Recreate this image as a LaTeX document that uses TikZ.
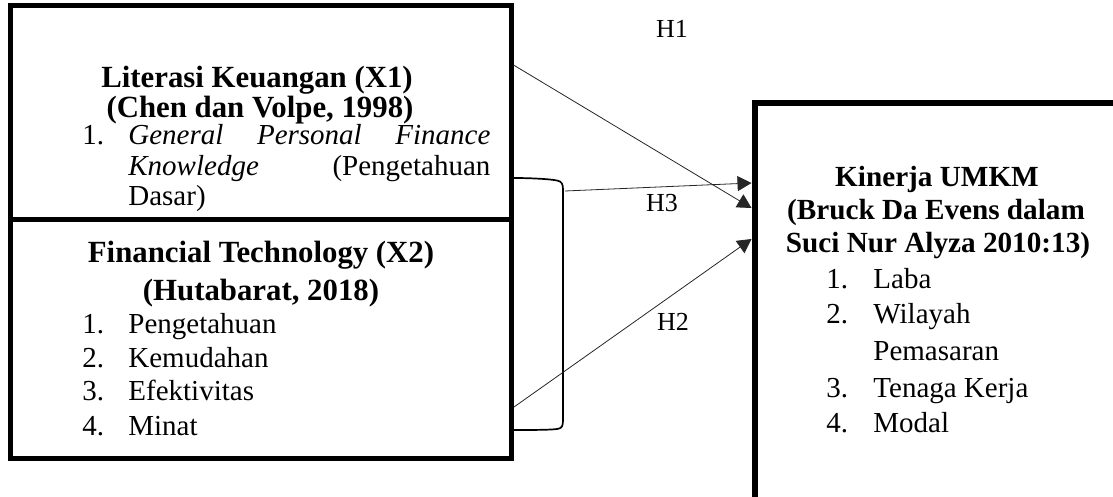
\documentclass[tikz,border=0pt]{standalone}
\usepackage{fontspec}
\setmainfont{Liberation Serif}
\usetikzlibrary{arrows.meta}
\tikzset{
  hyp/.style={>={Triangle[length=7pt,width=7.5pt]}, every edge/.style={draw=black!85, line width=0.4pt, ->}},
  varbox/.style={draw=black, line width=2.5pt, inner sep=0pt},
  brk/.style={draw=black, line width=0.85pt},
  ttl/.style={anchor=base, inner sep=0pt, text height=0.66em, text depth=0.15em,
    font=\bfseries\fontsize{15.4}{18}\selectfont},
  ttlsm/.style={ttl, font=\bfseries\fontsize{14.6}{17}\selectfont},
  num/.style={anchor=base west, inner sep=0pt, text height=0.66em, text depth=0.18em,
    font=\fontsize{14.5}{17}\selectfont},
  hlbl/.style={anchor=base, inner sep=0pt, font=\fontsize{13}{15}\selectfont},
}
\begin{document}
\begin{tikzpicture}[x=0.5pt, y=-0.5pt, hyp]
  \useasboundingbox (0,0) rectangle (1113,497);
  % boxes
  \node[varbox, minimum width=250.25pt, minimum height=106.75pt] (x1) at (260.75,112.75) {};
  \node[varbox, minimum width=250.75pt, minimum height=119.25pt] (x2) at (260.75,338.75) {};
  \node[varbox, line width=3pt, minimum width=187.75pt, minimum height=205.75pt] (y) at (942.25,309.25) {};

  % X1
  \node[ttl] (x1t) at (257,88) {Literasi Keuangan (X1)};
  \node[ttl] (x1r) at (260,118) {(Chen dan Volpe, 1998)};
  \node[num] (x1n) at (82,145) {1.};
  \node[num] (x1a) at (128,145) {\makebox[181pt][s]{\itshape General Personal Finance}};
  \node[num] (x1b) at (128,176) {\makebox[181pt][l]{\itshape Knowledge\upshape\hfill(Pengetahuan}};
  \node[num] (x1c) at (128,206) {Dasar)};

  % X2
  \node[ttl] (x2t) at (261,263) {Financial Technology (X2)};
  \node[ttl] (x2r) at (261,300) {(Hutabarat, 2018)};
  \foreach \i/\t/\yy in {1/Pengetahuan/333, 2/Kemudahan/367, 3/Efektivitas/400, 4/Minat/435} {
    \node[num] (x2n\i) at (82,\yy) {\i.};
    \node[num] (x2i\i) at (128,\yy) {\t};
  }

  % Y
  \node[ttlsm] (yt) at (937,187) {Kinerja UMKM};
  \node[ttlsm] (yr1) at (936,220) {(Bruck Da Evens dalam};
  \node[ttlsm] (yr2) at (938,253) {Suci Nur Alyza 2010:13)};
  \foreach \i/\t/\yy in {1/Laba/288, 2/Wilayah/323, 3/Tenaga Kerja/397, 4/Modal/432} {
    \node[num] (yn\i) at (826,\yy) {\i.};
    \node[num] (yi\i) at (873,\yy) {\t};
  }
  \node[num] (yi2b) at (873,360) {Pemasaran};

  % bracket
  \draw[brk] (x1.east |- 0,178) coordinate (bt)
    .. controls (530,178) and (550,179) .. (557,180.5)
    .. controls (562,181.5) and (563,184) .. (563,190)
    -- (563,420)
    .. controls (563,426) and (562,428.5) .. (557,429)
    .. controls (550,430) and (530,430) .. (x2.east |- 0,430) coordinate (bb);
  \coordinate (h3s) at (565,191);

  % hypotheses
  \path (x1.east |- 0,65) edge (y.west |- 0,208);
  \path (h3s) edge (y.west |- 0,183);
  \path (x2.east |- 0,407) edge (y.west |- 0,239);
  \node[hlbl] (h1) at (672,38) {H1};
  \node[hlbl] (h3) at (662,212) {H3};
  \node[hlbl] (h2) at (673,330) {H2};
\end{tikzpicture}
\end{document}
